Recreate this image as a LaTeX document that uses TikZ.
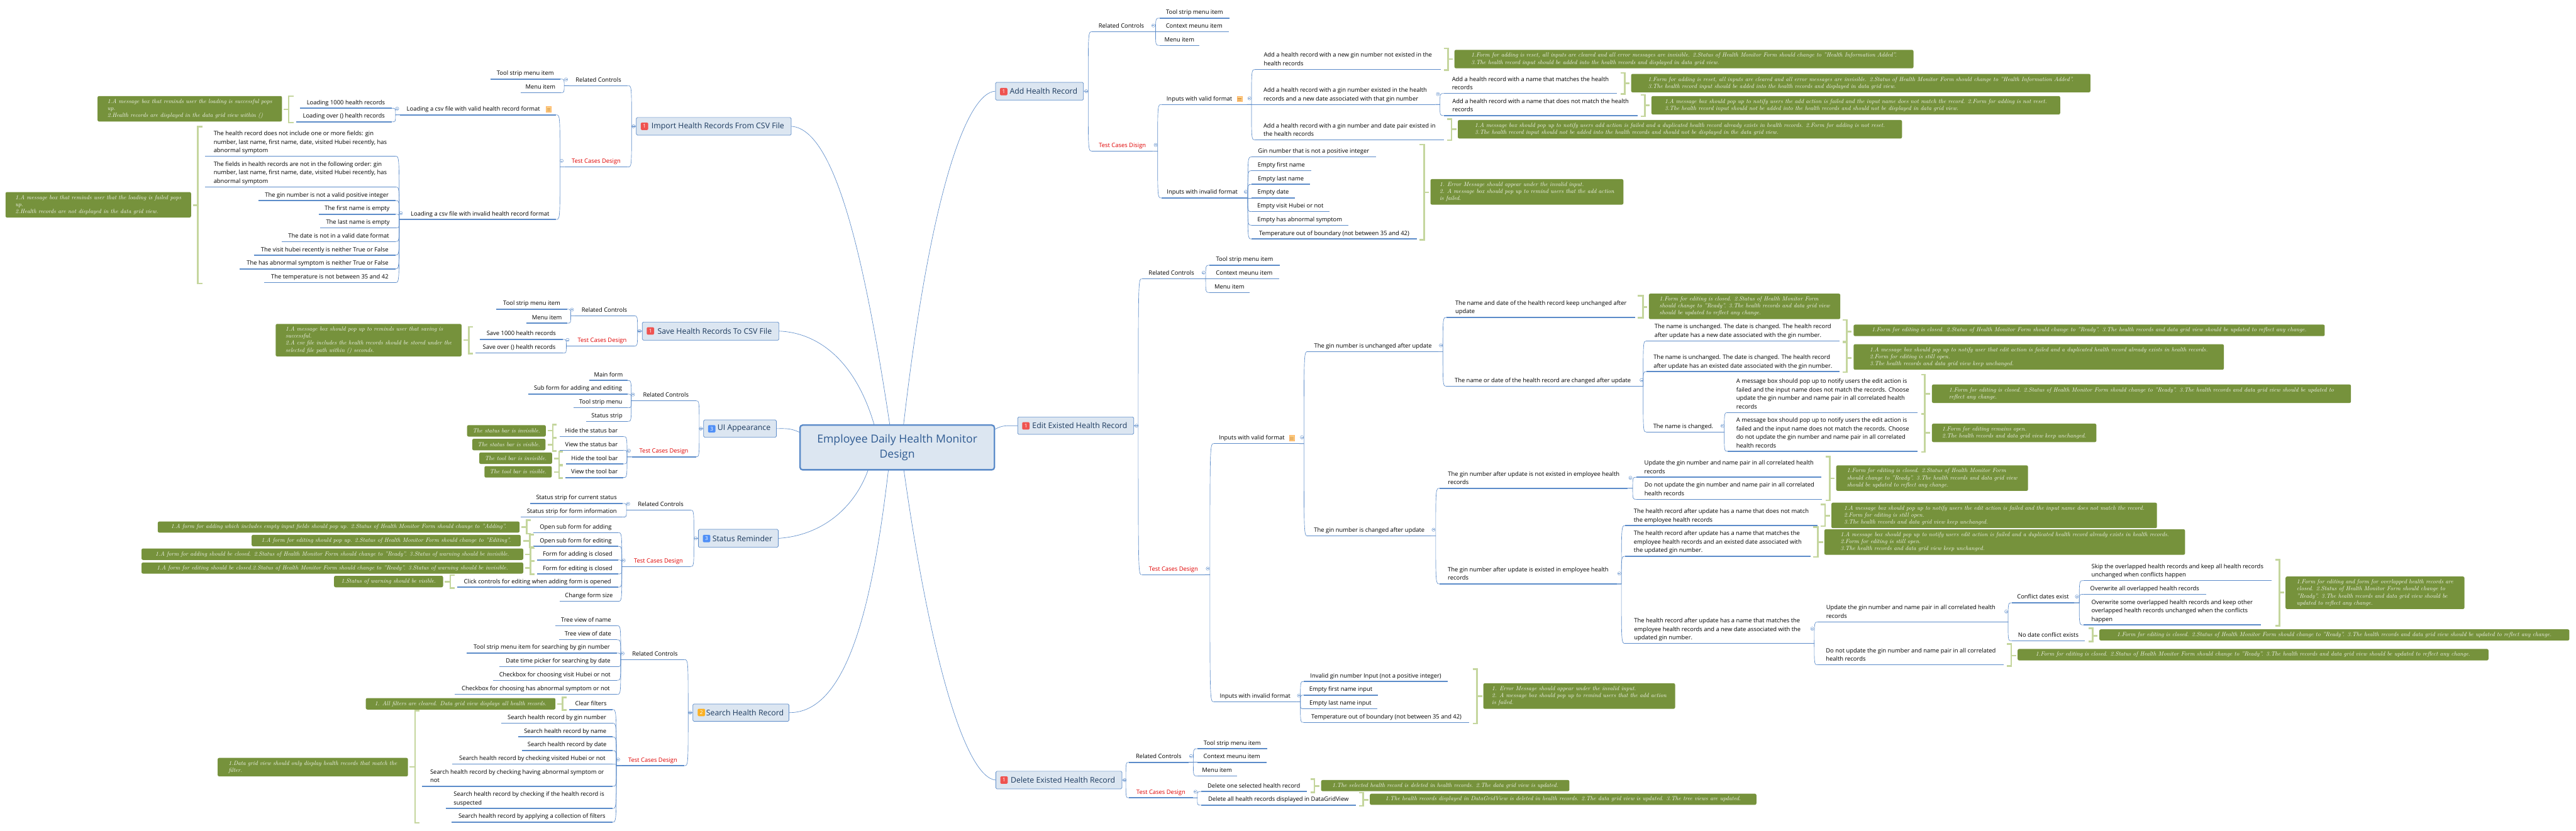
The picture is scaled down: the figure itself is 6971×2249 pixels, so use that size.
\documentclass[tikz,border=0pt]{standalone}
\usepackage{fontspec}
\newfontfamily\osans{Open Sans}
\usetikzlibrary{calc}
\definecolor{lblue}{HTML}{5B8BC9}
\definecolor{mfill}{HTML}{DCE6F1}
\definecolor{mtext}{HTML}{1C3A5E}
\definecolor{ctext}{HTML}{2F5B92}
\definecolor{tred}{HTML}{E00000}
\definecolor{gbg}{HTML}{76923C}
\definecolor{brk}{HTML}{C5D69E}
\definecolor{bred}{HTML}{EF5350}
\definecolor{bblue}{HTML}{4F8FF7}
\definecolor{bora}{HTML}{FBB124}
\tikzset{
  x=1pt,y=-1pt,
  topicnode/.style={anchor=south,inner xsep=0pt,inner ysep=5pt,text depth=5pt,align=left,text=black,
     font=\osans\fontsize{16}{23}\selectfont},
  redtext/.style={text=tred},
  uline/.style={draw=lblue,line width=2.6pt},
  conn/.style={draw=lblue,line width=1.1pt},
  cl/.style={draw=lblue,line width=0.7pt},
  mainnode/.style={draw=lblue,fill=mfill,line width=1.2pt,rounded corners=3pt,text=mtext,inner sep=0pt,
     font=\osans\fontsize{21}{26}\selectfont},
  centernode/.style={draw=lblue,fill=mfill,line width=4pt,rounded corners=7pt,text=ctext,inner sep=0pt,align=center,
     font=\osans\fontsize{30}{41}\selectfont},
  badge/.style={fill=#1,rounded corners=2.5pt,text=white,minimum width=20pt,minimum height=20pt,inner sep=0pt,
     font=\osans\fontsize{14}{14}\selectfont},
  greenbox/.style={fill=gbg,rounded corners=4pt,text=white,inner sep=0pt,align=left,
     font=\fontsize{16.2}{19}\selectfont\itshape\addfontfeature{FakeBold=0.25}},
  bracket/.style={draw=brk,line width=4.5pt},
}
\newcommand{\topic}[6][]{%
  \pgfmathsetmacro\tw{#4-#3}\pgfmathsetmacro\tx{(#3+#4)/2}%
  \node[topicnode,minimum width=\tw pt,#1] (#2) at (\tx,#5) {#6};%
  \draw[uline] (#2.south west) -- (#2.south east);}
\newcommand{\mainbox}[6]{% name x1 x2 y1 y2 text
  \pgfmathsetmacro\tw{#3-#2}\pgfmathsetmacro\th{#5-#4}\pgfmathsetmacro\tx{(#2+#3)/2}\pgfmathsetmacro\ty{(#4+#5)/2}%
  \node[mainnode,minimum width=\tw pt,minimum height=\th pt] (#1) at (\tx,\ty) {\hspace*{22pt}#6};}
\newcommand{\gbox}[6]{% name x1 x2 y1 y2 text
  \pgfmathsetmacro\tw{#3-#2}\pgfmathsetmacro\th{#5-#4}\pgfmathsetmacro\tx{(#2+#3)/2}\pgfmathsetmacro\ty{(#4+#5)/2}%
  \node[greenbox,minimum width=\tw pt,minimum height=\th pt] (#1) at (\tx,\ty) {#6};}
\newcommand{\brL}[6]{% xleft xright y1 y2 ytick xtick : spine on the left
  \pgfmathsetmacro\sx{#1+2.25}\pgfmathsetmacro\ya{#3+2.25}\pgfmathsetmacro\yb{#4-2.25}%
  \draw[bracket] (#2,\ya) -- (\sx,\ya) -- (\sx,\yb) -- (#2,\yb);%
  \draw[bracket] (\sx,#5) -- (#6,#5);}
\newcommand{\brR}[6]{% xleft xright y1 y2 ytick xtick : spine on the right
  \pgfmathsetmacro\sx{#2-2.25}\pgfmathsetmacro\ya{#3+2.25}\pgfmathsetmacro\yb{#4-2.25}%
  \draw[bracket] (#1,\ya) -- (\sx,\ya) -- (\sx,\yb) -- (#1,\yb);%
  \draw[bracket] (\sx,#5) -- (#6,#5);}
\newcommand{\conn}[2]{%
  \coordinate (tmpa) at ($(#1)!0.55!(#2 |- #1)$);%
  \draw[conn] (#1) -- (tmpa) .. controls (tmpa |- #2) .. (#2);}
\newcommand{\mk}[1]{%
  \draw[cl] (#1) circle[radius=4.5pt];\draw[cl] ($(#1)+(-2.5,0)$) -- ($(#1)+(2.5,0)$);}
\newcommand{\kidsR}[2]{\mk{$(#1.east)+(7,-3)$}\foreach \c in {#2}{\conn{#1.south east}{\c.south west}}}
\newcommand{\kidsL}[2]{\mk{$(#1.west)+(-8,-3)$}\foreach \c in {#2}{\conn{#1.south west}{\c.south east}}}
\newcommand{\kidsMR}[2]{\mk{$(#1.east)+(7,0)$}\foreach \c in {#2}{\conn{#1.east}{\c.south west}}}
\newcommand{\kidsML}[2]{\mk{$(#1.west)+(-7,0)$}\foreach \c in {#2}{\conn{#1.west}{\c.south east}}}
\newcommand{\noteicon}[4]{%
  \fill[fill=yellow!30!orange!45!white,draw=orange!60!white,line width=0.6pt] (#1,#3) rectangle (#2,#4);%
  \foreach \f in {0.35,0.55,0.75}{\draw[orange!80!black!70,line width=0.7pt] ($(#1,#3)!\f!(#1,#4)+(2,0)$) -- ($(#2,#3)!\f!(#2,#4)+(-2,0)$);}}
\begin{document}
\begin{tikzpicture}
\useasboundingbox (0,0) rectangle (6971,2249);
\fill[white] (0,0) rectangle (6971,2249);
% ---------- centre and main topics
\node[centernode,minimum width=526pt,minimum height=121pt] (root) at (2428,1211.5) {Employee Daily Health Monitor\\Design};
\mainbox{imp}{1722}{2141}{318}{366}{Import Health Records From CSV File}
\mainbox{sav}{1738}{2108}{872}{921}{Save Health Records To CSV File}
\mainbox{uia}{1904}{2101}{1137}{1184}{UI Appearance}
\mainbox{sta}{1890}{2106}{1433}{1482}{Status Reminder}
\mainbox{sea}{1875}{2135}{1906}{1953}{Search Health Record}
\mainbox{add}{2694}{2932}{223}{271}{Add Health Record}
\mainbox{edi}{2754}{3068}{1129}{1176}{Edit Existed Health Record}
\mainbox{del}{2695}{3036}{2088}{2136}{Delete Existed Health Record}
\node[badge=bred] (bimp) at (1744,342) {1};
\node[badge=bred] (bsav) at (1760,896) {1};
\node[badge=bblue] (buia) at (1926,1161) {3};
\node[badge=bblue] (bsta) at (1912,1458) {3};
\node[badge=bora] (bsea) at (1898,1929) {2};
\node[badge=bred] (badd) at (2716,248) {1};
\node[badge=bred] (bedi) at (2776,1153) {1};
\node[badge=bred] (bdel) at (2717,2112) {1};
\draw[conn] (imp.east) .. controls (2260,350) and (2340,700) .. (2408,1151);
\draw[conn] (sav.east) .. controls (2200,900) and (2310,960) .. (2366,1151);
\draw[conn] (uia.east) .. controls (2130,1160) and (2140,1160) .. (2163,1170);
\draw[conn] (sta.east) .. controls (2220,1450) and (2310,1380) .. (2349,1273);
\draw[conn] (sea.east) .. controls (2290,1930) and (2360,1650) .. (2404,1273);
\draw[conn] (add.west) .. controls (2620,250) and (2520,500) .. (2445,1151);
\draw[conn] (edi.west) .. controls (2725,1153) and (2715,1150) .. (2693,1162);
\draw[conn] (del.west) .. controls (2615,2105) and (2520,1800) .. (2446,1273);
% ---------- Import
\topic{i1}{1540}{1699}{232}{Related Controls}
\topic[redtext]{i2}{1528}{1699}{452}{Test Cases Design}
\kidsML{imp}{i1,i2}
\topic{i11}{1327}{1516}{214}{Tool strip menu item}
\topic{i12}{1409}{1516}{251}{Menu item}
\kidsL{i1}{i11,i12}
\topic{i21}{1083}{1505}{311}{Loading a csv file with valid health record format\hspace{26pt}}
\noteicon{1478}{1491}{288}{303}
\topic{i22}{1093}{1505}{594}{Loading a csv file with invalid health record format}
\kidsL{i2}{i21,i22}
\topic{i211}{812}{1060}{293}{Loading 1000 health records}
\topic{i212}{801}{1060}{330}{Loading over () health records}
\kidsL{i21}{i211,i212}
\topic{i221}{555}{1070}{423}{The health record does not include one or more fields:  gin\\number, last name, first name, date, visited Hubei recently, has\\abnormal symptom}
\topic{i222}{555}{1070}{506}{The fields in health records are not in the following order: gin\\number, last name, first name, date, visited Hubei recently, has\\abnormal symptom}
\topic{i223}{699}{1070}{543}{The gin number is not a valid positive integer}
\topic{i224}{863}{1070}{580}{The first name is empty}
\topic{i225}{867}{1070}{617}{The last name is empty}
\topic{i226}{763}{1070}{654}{The date is not in a valid date format}
\topic{i227}{687}{1070}{691}{The visit hubei recently is neither True or False}
\topic{i228}{649}{1070}{728}{The has abnormal symptom is neither True or False}
\topic{i229}{715}{1070}{765}{The temperature is not between 35 and 42}
\kidsL{i22}{i221,i222,i223,i224,i225,i226,i227,i228,i229}
\brL{779}{794}{258}{334}{296}{768}
\gbox{gi1}{264}{763}{260}{329}{1.A message box that reminds user the loading is successful pops\\up.\\2.Health records are displayed in the data grid view within ()}
\brL{533}{548}{341}{770}{556}{523}
\gbox{gi2}{15}{517}{520}{589}{1.A message box that reminds user that the loading is failed pops\\up.\\2.Health records are not displayed in the data grid view.}
% ---------- Save
\topic{s1}{1556}{1715}{855}{Related Controls}
\topic[redtext]{s2}{1544}{1715}{937}{Test Cases Design}
\kidsML{sav}{s1,s2}
\topic{s11}{1343}{1535}{837}{Tool strip menu item}
\topic{s12}{1425}{1535}{875}{Menu item}
\kidsL{s1}{s11,s12}
\topic{s21}{1298}{1523}{919}{Save 1000 health records}
\topic{s22}{1287}{1523}{956}{Save over () health records}
\kidsL{s2}{s21,s22}
\brL{1267}{1280}{883}{960}{921}{1255}
\gbox{gs1}{746}{1249}{877}{965}{1.A message box should pop up to reminds user that saving is\\successful.\\2.A csv file includes the health records should be stored under the\\selected file path within () seconds.}
% ---------- UI
\topic{u1}{1721}{1883}{1085}{Related Controls}
\topic[redtext]{u2}{1710}{1883}{1237}{Test Cases Design}
\kidsML{uia}{u1,u2}
\topic{u11}{1595}{1698}{1030}{Main form}
\topic{u12}{1430}{1698}{1067}{Sub form for adding and editing}
\topic{u13}{1553}{1698}{1104}{Tool strip menu}
\topic{u14}{1587}{1698}{1141}{Status strip}
\kidsL{u1}{u11,u12,u13,u14}
\topic{u21}{1515}{1686}{1182}{Hide the status bar}
\topic{u22}{1515}{1686}{1219}{View the status bar}
\topic{u23}{1532}{1686}{1256}{Hide the tool bar}
\topic{u24}{1531}{1686}{1293}{View the tool bar}
\kidsL{u2}{u21,u22,u23,u24}
\brL{1494}{1507}{1147}{1187}{1166}{1483}
\brL{1494}{1507}{1184}{1223}{1204}{1483}
\brL{1511}{1524}{1221}{1260}{1241}{1500}
\brL{1511}{1524}{1258}{1297}{1278}{1500}
\gbox{gu1}{1264}{1477}{1151}{1182}{The status bar is invisible.}
\gbox{gu2}{1278}{1476}{1188}{1219}{The status bar is visible.}
\gbox{gu3}{1297}{1494}{1225}{1256}{The tool bar is invisible.}
\gbox{gu4}{1311}{1493}{1262}{1293}{The tool bar is visible.}
% ---------- Status
\topic{r1}{1708}{1868}{1381}{Related Controls}
\topic[redtext]{r2}{1696}{1868}{1534}{Test Cases Design}
\kidsML{sta}{r1,r2}
\topic{r11}{1435}{1685}{1363}{Status strip for current status}
\topic{r12}{1410}{1685}{1400}{Status strip for form information}
\kidsL{r1}{r11,r12}
\topic{r21}{1444}{1672}{1442}{Open sub form for adding}
\topic{r22}{1444}{1672}{1479}{Open sub form for editing}
\topic{r23}{1454}{1672}{1516}{Form for adding is closed}
\topic{r24}{1454}{1672}{1554}{Form for editing is closed}
\topic{r25}{1237}{1672}{1590}{Click controls for editing when adding form is opened}
\topic{r26}{1515}{1672}{1628}{Change form size}
\kidsL{r2}{r21,r22,r23,r24,r25,r26}
\brL{1423}{1436}{1406}{1447}{1427}{1411}
\brL{1432}{1445}{1445}{1484}{1465}{1416}
\brL{1433}{1447}{1482}{1521}{1501}{1421}
\brL{1433}{1447}{1517}{1557}{1538}{1421}
\brL{1216}{1230}{1555}{1594}{1575}{1203}
\gbox{gr1}{427}{1406}{1412}{1442}{1.A form for adding which includes empty input fields should pop up. 2.Status of Health Monitor Form should change to "Adding".}
\gbox{gr2}{681}{1409}{1448}{1479}{1.A form for editing should pop up. 2.Status of Health Monitor Form should change to "Editing".}
\gbox{gr3}{383}{1416}{1485}{1516}{1.A form for adding should be closed. 2.Status of Health Monitor Form should change to "Ready". 3.Status of warning should be invisible.}
\gbox{gr4}{383}{1416}{1523}{1553}{1.A form for editing should be closed.2.Status of Health Monitor Form should change to "Ready". 3.Status of warning should be invisible.}
\gbox{gr5}{904}{1199}{1559}{1590}{1.Status of warning should be visible.}
% ---------- Search
\topic{e1}{1693}{1852}{1786}{Related Controls}
\topic[redtext]{e2}{1681}{1852}{2073}{Test Cases Design}
\kidsML{sea}{e1,e2}
\topic{e11}{1503}{1669}{1694}{Tree view of name}
\topic{e12}{1513}{1669}{1732}{Tree view of date}
\topic{e13}{1263}{1669}{1768}{Tool strip menu item for searching by gin number}
\topic{e14}{1352}{1669}{1805}{Date time picker for searching by date}
\topic{e15}{1334}{1669}{1842}{Checkbox for choosing visit Hubei or not}
\topic{e16}{1231}{1669}{1880}{Checkbox for choosing has abnormal symptom or not}
\kidsL{e1}{e11,e12,e13,e14,e15,e16}
\topic{e21}{1541}{1657}{1921}{Clear filters}
\topic{e22}{1357}{1657}{1958}{Search health record by gin number}
\topic{e23}{1402}{1657}{1995}{Search health record by name}
\topic{e24}{1412}{1657}{2032}{Search health record by date}
\topic{e25}{1224}{1657}{2069}{Search health record by checking visited Hubei or not}
\topic{e26}{1142}{1657}{2129}{Search health record by checking having abnormal symptom or\\not}
\topic{e27}{1206}{1657}{2189}{Search health record by checking if the health record is\\suspected}
\topic{e28}{1222}{1657}{2226}{Search health record by applying a collection of filters}
\kidsL{e2}{e21,e22,e23,e24,e25,e26,e27,e28}
\brL{1520}{1534}{1886}{1925}{1906}{1508}
\brL{1121}{1135}{1922}{2230}{2076}{1108}
\gbox{ge1}{990}{1503}{1890}{1921}{1. All filters are cleared. Data grid view displays all health records.}
\gbox{ge2}{589}{1104}{2052}{2102}{1.Data grid view should only display health records that match the\\filter.}
% ---------- Add
\topic{a1}{2955}{3114}{86}{Related Controls}
\topic[redtext]{a2}{2955}{3120}{409}{Test Cases Disign}
\kidsMR{add}{a1,a2}
\topic{a11}{3138}{3327}{49}{Tool strip menu item}
\topic{a12}{3138}{3325}{86}{Context meunu item}
\topic{a13}{3138}{3245}{123}{Menu item}
\kidsR{a1}{a11,a12,a13}
\topic{a21}{3143}{3374}{283}{Inputs with valid format\hspace{26pt}}
\noteicon{3348}{3361}{260}{275}
\topic{a22}{3143}{3364}{536}{Inputs with invalid format}
\kidsR{a2}{a21,a22}
\topic{a211}{3397}{3898}{188}{Add a health record with a new gin number not existed in the\\health records}
\topic{a212}{3397}{3884}{283}{Add a health record with a gin number existed in the health\\records and a new date associated with that gin number}
\topic{a213}{3397}{3907}{379}{Add a health record with a gin number and date pair existed in\\the health records}
\kidsR{a21}{a211,a212,a213}
\topic{a2121}{3907}{4376}{253}{Add a health record with a name that matches the health\\records}
\topic{a2122}{3907}{4431}{313}{Add a health record with a name that does not match the health\\records}
\kidsR{a212}{a2121,a2122}
\topic{a221}{3387}{3723}{425}{Gin number that is not a positive integer}
\topic{a222}{3387}{3548}{462}{Empty first name}
\topic{a223}{3387}{3545}{499}{Empty last name}
\topic{a224}{3387}{3504}{536}{Empty date}
\topic{a225}{3387}{3597}{573}{Empty visit Hubei or not}
\topic{a226}{3387}{3648}{610}{Empty has abnormal symptom}
\topic{a227}{3387}{3834}{647}{Temperature out of boundary (not between 35 and 42)}
\kidsR{a22}{a221,a222,a223,a224,a225,a226,a227}
\brR{3907}{3921}{129}{192}{160}{3931}
\brR{4385}{4399}{195}{257}{225}{4409}
\brR{4440}{4453}{255}{317}{285}{4464}
\brR{3916}{3930}{320}{382}{350}{3941}
\brR{3842}{3856}{389}{652}{521}{3867}
\gbox{ga1}{3936}{5178}{135}{185}{1.Form for adding is reset, all inputs are cleared and all error messages are invisible. 2.Status of Health Monitor Form should change to "Health Information Added".\\3.The health record input should be added into the health records and displayed in data grid view.}
\gbox{ga2}{4414}{5657}{200}{250}{1.Form for adding is reset, all inputs are cleared and all error messages are invisible. 2.Status of Health Monitor Form should change to "Health Information Added".\\3.The health record input should be added into the health records and displayed in data grid view.}
\gbox{ga3}{4469}{5575}{260}{310}{1.A message box should pop up to notify users the add action is failed and the input name does not match the record. 2.Form for adding is not reset.\\3.The health record input should not be added into the health records and should not be displayed in data grid view.}
\gbox{ga4}{3945}{5147}{325}{375}{1.A message box should pop up to notify users add action is failed and a duplicated health record already exists in health records. 2.Form for adding is not reset.\\3.The health record input should not be added into the health records and should not be displayed in the data grid view.}
\gbox{ga5}{3871}{4393}{485}{554}{1. Error Message should appear under the invalid input.\\2. A message box should pop up to remind users that the add action\\is failed.}
% ---------- Edit
\topic{d1}{3090}{3250}{755}{Related Controls}
\topic[redtext]{d2}{3090}{3261}{1556}{Test Cases Design}
\kidsMR{edi}{d1,d2}
\topic{d11}{3273}{3463}{718}{Tool strip menu item}
\topic{d12}{3273}{3461}{755}{Context meunu item}
\topic{d13}{3273}{3381}{792}{Menu item}
\kidsR{d1}{d11,d12,d13}
\topic{d21}{3285}{3516}{1201}{Inputs with valid format\hspace{26pt}}
\noteicon{3489}{3502}{1178}{1193}
\topic{d22}{3285}{3508}{1900}{Inputs with invalid format}
\kidsR{d2}{d21,d22}
\topic{d211}{3539}{3892}{952}{The gin number is unchanged after update}
\topic{d212}{3539}{3872}{1451}{The gin number is changed after update}
\kidsR{d21}{d211,d212}
\topic{d2111}{3915}{4425}{859}{The name and date of the health record keep unchanged after\\update}
\topic{d2112}{3915}{4435}{1046}{The name or date of the health record are changed after update}
\kidsR{d211}{d2111,d2112}
\topic{n1}{4456}{4977}{923}{The name is unchanged. The date is changed. The health record\\after update has a new date associated with the gin number.}
\topic{n2}{4456}{4977}{1006}{The name is unchanged. The date is changed. The health record\\after update has an existed date associated with the gin number.}
\topic{n3}{4456}{4654}{1170}{The name is changed.}
\kidsR{d2112}{n1,n2,n3}
\topic{n31}{4676}{5189}{1117}{A message box should pop up to notify users the edit action is\\failed and the input name does not match the records. Choose\\update the gin number and name pair in all correlated health\\records}
\topic{n32}{4676}{5189}{1222}{A message box should pop up to notify users the edit action is\\failed and the input name does not match the records. Choose\\do not update the gin number and name pair in all correlated\\health records}
\kidsR{n3}{n31,n32}
\topic{c1}{3896}{4405}{1322}{The gin number after update is not existed in employee health\\records}
\topic{c2}{3896}{4375}{1581}{The gin number after update is existed in employee health\\records}
\kidsR{d212}{c1,c2}
\topic{c11}{4429}{4929}{1292}{Update the gin number and name pair in all correlated health\\records}
\topic{c12}{4429}{4931}{1352}{Do not update the gin number and name pair in all correlated\\health records}
\kidsR{c1}{c11,c12}
\topic{c21}{4398}{4918}{1423}{The health record after update has a name that does not match\\the employee health records}
\topic{c22}{4398}{4899}{1506}{The health record after update has a name that matches the\\employee health records and an existed date associated with\\the updated gin number.}
\topic{c23}{4398}{4897}{1742}{The health record after update has a name that matches the\\employee health records and a new date associated with the\\updated gin number.}
\kidsR{c2}{c21,c22,c23}
\topic{c231}{4920}{5422}{1684}{Update the gin number and name pair in all correlated health\\records}
\topic{c232}{4920}{5422}{1800}{Do not update the gin number and name pair in all correlated\\health records}
\kidsR{c23}{c231,c232}
\topic{c2311}{5444}{5613}{1632}{Conflict dates exist}
\topic{c2312}{5444}{5642}{1735}{No date conflict exists}
\kidsR{c231}{c2311,c2312}
\topic{o1}{5638}{6147}{1572}{Skip the overlapped health records and keep all health records\\unchanged when conflicts happen}
\topic{o2}{5638}{5970}{1609}{Overwrite all overlapped health records}
\topic{o3}{5638}{6118}{1692}{Overwrite some overlapped health records and keep other\\overlapped health records unchanged when the conflicts\\happen}
\kidsR{c2311}{o1,o2,o3}
\topic{d221}{3528}{3918}{1845}{Invalid gin number Input (not a positive integer)}
\topic{d222}{3528}{3729}{1882}{Empty first name input}
\topic{d223}{3528}{3727}{1919}{Empty last name input}
\topic{d224}{3528}{3976}{1956}{Temperature out of boundary (not between 35 and 42)}
\kidsR{d22}{d221,d222,d223,d224}
\brR{4432}{4448}{799}{863}{831}{4458}
\brR{4987}{5000}{864}{927}{898}{5011}
\brR{4987}{5000}{924}{1010}{969}{5011}
\brR{5199}{5211}{1012}{1124}{1066}{5223}
\brR{5199}{5211}{1118}{1226}{1172}{5223}
\brR{4940}{4954}{1234}{1357}{1295}{4965}
\brR{4927}{4941}{1364}{1427}{1396}{4952}
\brR{4907}{4922}{1425}{1510}{1468}{4933}
\brR{6157}{6171}{1513}{1697}{1604}{6182}
\brR{5652}{5665}{1699}{1739}{1722}{5676}
\brR{5431}{5445}{1741}{1805}{1775}{5456}
\brR{3985}{3999}{1809}{1961}{1885}{4011}
\gbox{gd1}{4462}{4980}{795}{864}{1.Form for editing is closed.  2.Status of Health Monitor Form\\should change to "Ready". 3.The health records and data grid view\\should be updated to reflect any change.}
\gbox{gd2}{5016}{6291}{879}{910}{1.Form for editing is closed.  2.Status of Health Monitor Form should change to "Ready". 3.The health records and data grid view should be updated to reflect any change.}
\gbox{gd3}{5016}{6018}{932}{1001}{1.A message box should pop up to notify user that edit action is failed and a duplicated health record already exists in health records.\\2.Form for editing is still open.\\3.The health records and data grid view keep unchanged.}
\gbox{gd4}{5228}{6362}{1041}{1091}{1.Form for editing is closed.  2.Status of Health Monitor Form should change to "Ready". 3.The health records and data grid view should be updated to\\reflect any change.}
\gbox{gd5}{5228}{5673}{1147}{1197}{1.Form for editing remains open.\\2.The health records and data grid view keep unchanged.}
\gbox{gd6}{4969}{5488}{1260}{1329}{1.Form for editing is closed.  2.Status of Health Monitor Form\\should change to "Ready". 3.The health records and data grid view\\should be updated to reflect any change.}
\gbox{gd7}{4956}{5837}{1361}{1430}{1.A message box should pop up to notify users the edit action is failed and the input name does not match the record.\\2.Form for editing is still open.\\3.The health records and data grid view keep unchanged.}
\gbox{gd8}{4937}{5913}{1433}{1502}{1.A message box should pop up to notify users edit action is failed and a duplicated health record already exists in health records.\\2.Form for editing is still open.\\3.The health records and data grid view keep unchanged.}
\gbox{gd9}{6185}{6669}{1561}{1649}{1.Form for editing and form for overlapped health records are\\closed.  2.Status of Health Monitor Form should change to\\"Ready". 3.The health records and data grid view should be\\updated to reflect any change.}
\gbox{gd10}{5681}{6953}{1704}{1734}{1.Form for editing is closed.  2.Status of Health Monitor Form should change to "Ready". 3.The health records and data grid view should be updated to reflect any change.}
\gbox{gd11}{5460}{6734}{1757}{1788}{1.Form for editing is closed.  2.Status of Health Monitor Form should change to "Ready". 3.The health records and data grid view should be updated to reflect any change.}
\gbox{gd12}{4014}{4533}{1850}{1919}{1. Error Message should appear under the invalid input.\\2. A message box should pop up to remind users that the add action\\is failed.}
% ---------- Delete
\topic{x1}{3055}{3216}{2064}{Related Controls}
\topic[redtext]{x2}{3055}{3228}{2160}{Test Cases Design}
\kidsMR{del}{x1,x2}
\topic{x11}{3240}{3429}{2027}{Tool strip menu item}
\topic{x12}{3240}{3427}{2064}{Context meunu item}
\topic{x13}{3240}{3347}{2101}{Menu item}
\kidsR{x1}{x11,x12,x13}
\topic{x21}{3250}{3536}{2143}{Delete one selected health record}
\topic{x22}{3250}{3669}{2180}{Delete all health records displayed in DataGridView}
\kidsR{x2}{x21,x22}
\brR{3546}{3559}{2107}{2147}{2128}{3571}
\brR{3678}{3691}{2144}{2184}{2166}{3703}
\gbox{gx1}{3575}{4247}{2112}{2142}{1.The selected health record is deleted in health records. 2.The data grid view is updated.}
\gbox{gx2}{3707}{4753}{2149}{2179}{1.The health records displayed in DataGridView is deleted in health records. 2.The data grid view is updated. 3.The tree views are updated.}
\end{tikzpicture}
\end{document}
